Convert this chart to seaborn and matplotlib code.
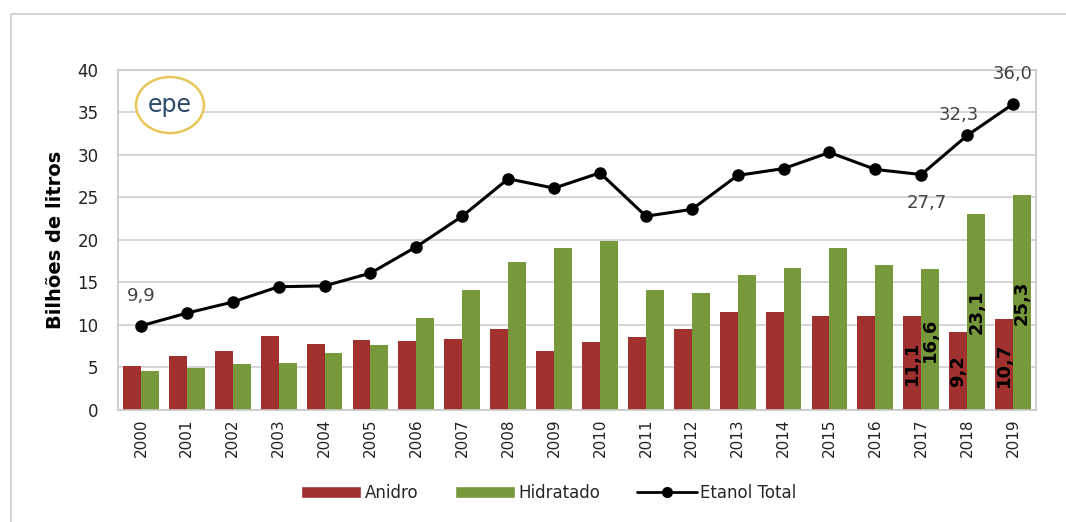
import numpy as np
import pandas as pd
import matplotlib
matplotlib.use("Agg")
import matplotlib.pyplot as plt
from matplotlib.patches import Ellipse
from matplotlib.lines import Line2D
from matplotlib.patches import Patch
import seaborn as sns

years = [str(y) for y in range(2000, 2020)]
anidro = [5.2, 6.4, 6.9, 8.7, 7.8, 8.2, 8.1, 8.4, 9.5, 6.9,
          8.0, 8.6, 9.5, 11.5, 11.5, 11.1, 11.0, 11.1, 9.2, 10.7]
hidratado = [4.6, 4.9, 5.4, 5.5, 6.7, 7.6, 10.8, 14.1, 17.4, 19.0,
             19.9, 14.1, 13.8, 15.9, 16.7, 19.0, 17.0, 16.6, 23.1, 25.3]
total = [9.9, 11.4, 12.7, 14.5, 14.6, 16.1, 19.2, 22.8, 27.2, 26.1,
         27.9, 22.8, 23.6, 27.6, 28.4, 30.3, 28.3, 27.7, 32.3, 36.0]
y_ticks = [0, 5, 10, 15, 20, 25, 30, 35, 40]

series_names = ["Anidro", "Hidratado"]
colors = {"Anidro": "#A0312F", "Hidratado": "#77983B"}

df = pd.DataFrame({
    "Ano": years * 2,
    "Valor": anidro + hidratado,
    "Tipo": ["Anidro"] * len(years) + ["Hidratado"] * len(years),
})

sns.set_theme(style="white")
plt.rcParams["font.family"] = ["DejaVu Sans"]

fig = plt.figure(figsize=(10.66, 5.22), dpi=100)
ax = fig.add_axes([0.1107, 0.2146, 0.8612, 0.6513])

sns.barplot(data=df, x="Ano", y="Valor", hue="Tipo", order=years,
            hue_order=series_names, palette=colors, width=0.78,
            saturation=1, ax=ax, legend=False, zorder=2,
            linewidth=0, edgecolor="none")

x_pos = np.arange(len(years))
ax.plot(x_pos, total, color="black", lw=2.2, marker="o", markersize=8,
        zorder=4)

ax.set_xlim(-0.5, len(years) - 0.5)
ax.set_ylim(0, 40)
ax.set_yticks(y_ticks)
ax.set_yticklabels([str(t) for t in y_ticks], fontsize=12, color="#222222")
ax.tick_params(axis="x", labelrotation=90, labelsize=11, colors="#222222",
               length=0, pad=6)
ax.tick_params(axis="y", length=0, pad=14)
ax.yaxis.grid(True, color="#CFCFCF", lw=1.2, zorder=0)
ax.set_axisbelow(True)
for sp in ax.spines.values():
    sp.set_color("#C8C8C8")
    sp.set_linewidth(1.2)
ax.set_xlabel("")
ax.set_ylabel("Bilhões de litros", fontsize=14, fontweight="bold",
              color="black", labelpad=9)

# value labels on the total line (offsets in pixels)
total_labels = {0: (0, 30), 17: (5, -28), 18: (-8, 20), 19: (0, 30)}
for i, (dx, dy) in total_labels.items():
    ax.annotate(f"{total[i]:.1f}".replace(".", ","), (x_pos[i], total[i]),
                xytext=(dx, dy), textcoords="offset pixels",
                ha="center", va="center", fontsize=13, color="#444444",
                zorder=5)

# rotated labels inside the bars of the last three years
for cont, vals in zip(ax.containers, [anidro, hidratado]):
    for i, (patch, v) in enumerate(zip(cont.patches, vals)):
        if i >= len(years) - 3:
            ax.text(patch.get_x() + patch.get_width() / 2, v / 2,
                    f"{v:.1f}".replace(".", ","), rotation=90,
                    ha="center", va="center", fontsize=13,
                    fontweight="bold", color="black", zorder=5)

# logo
ax.add_patch(Ellipse((0.0566, 0.897), 0.074, 0.165, transform=ax.transAxes,
                     facecolor="white", edgecolor="#E8C75A", lw=1.8, zorder=3))
ax.text(0.0566, 0.897, "epe", transform=ax.transAxes, ha="center",
        va="center", fontsize=17, color="#2A4868", zorder=4)

# legend
handles = [
    Patch(facecolor=colors["Anidro"], label="Anidro"),
    Patch(facecolor=colors["Hidratado"], label="Hidratado"),
    Line2D([0], [0], color="black", lw=2, marker="o", markersize=7,
           label="Etanol Total"),
]
fig.legend(handles=handles, loc="center", bbox_to_anchor=(0.515, 0.056),
           ncol=3, frameon=False, fontsize=12, handlelength=3.6,
           handleheight=0.8, handletextpad=0.2, columnspacing=2.2)

# outer frame
fig.add_artist(Line2D([11 / 1066, 1], [1 - 14 / 522, 1 - 14 / 522],
                      transform=fig.transFigure, color="#D6D6D6", lw=1.5))
fig.add_artist(Line2D([11 / 1066, 11 / 1066], [0, 1 - 14 / 522],
                      transform=fig.transFigure, color="#D6D6D6", lw=1.5))

fig.savefig("out.png", dpi=100, facecolor="white")
